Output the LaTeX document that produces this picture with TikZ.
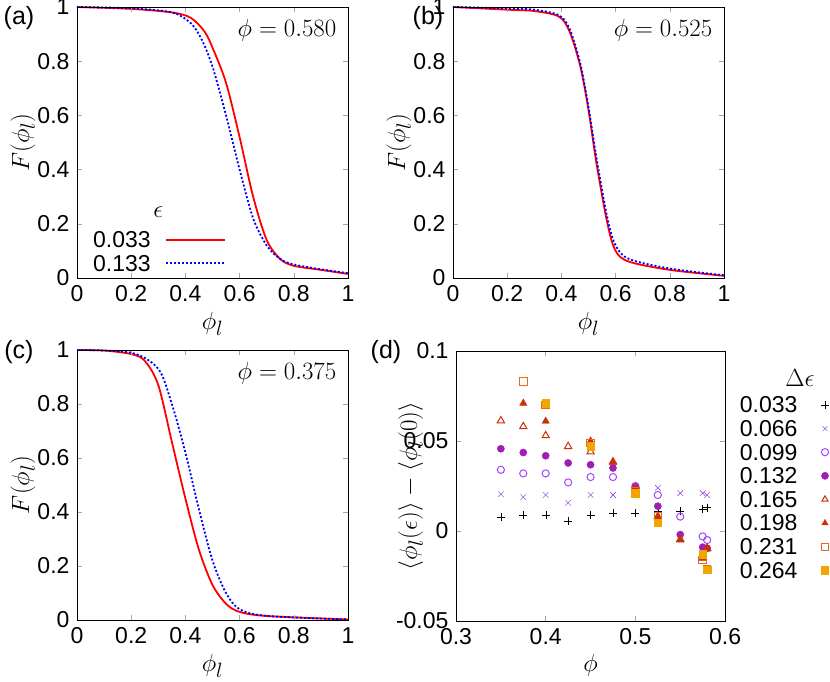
\documentclass[tikz,border=0pt]{standalone}
\usepackage{fontspec}
\setsansfont{Liberation Sans}
\usetikzlibrary{plotmarks}
\tikzset{
  tick/.style={font=\sffamily\fontsize{23}{25}\selectfont},
  lab/.style={font=\fontsize{29}{31}\selectfont},
  panel/.style={font=\sffamily\fontsize{25}{27}\selectfont},
  redline/.style={red,line width=1.8pt},
  blueline/.style={blue,line width=1.8pt,dash pattern=on 2pt off 2pt},
}
\definecolor{cviolet}{RGB}{130,40,220}
\definecolor{copen}{RGB}{160,70,255}
\definecolor{cpurple}{RGB}{160,30,180}
\definecolor{cred}{RGB}{200,50,10}
\definecolor{corange}{RGB}{225,110,30}
\definecolor{cyellow}{RGB}{240,165,0}
% frame with ticks for F panels
\newcommand{\fframe}{%
  \foreach \t in {0,0.2,0.4,0.6,0.8,1}{
    \draw[gray!70,line width=0.5pt] (\t,0) -- ++(0,5pt) (\t,1) -- ++(0,-5pt);
    \draw[gray!70,line width=0.5pt] (0,\t) -- ++(5pt,0) (1,\t) -- ++(-5pt,0);
    \node[tick,anchor=east] at ([xshift=-4pt]0,\t) {\t};
    \node[tick,anchor=north] at ([yshift=-4pt]\t,0) {\t};
  }
  \draw[line width=0.8pt] (0,0) rectangle (1,1);
  \node[lab] at (0.5,-0.17) {$\phi_l$};
  \node[lab,rotate=90] at (-0.2,0.5) {$F(\phi_l)$};
}
\begin{document}
\begin{tikzpicture}[x=1pt,y=1pt]
\useasboundingbox (0,0) rectangle (830,681);

%(a)
\begin{scope}[shift={(77,403)},x=271pt,y=271pt]
  \draw[redline] plot[smooth] coordinates {(0,1) (0.2,0.993) (0.35,0.98) (0.42,0.96) (0.47,0.91) (0.5,0.85) (0.55,0.72) (0.6,0.52) (0.65,0.3) (0.7,0.14) (0.75,0.07) (0.8,0.045) (0.9,0.03) (1,0.015)};
  \draw[blueline] plot[smooth] coordinates {(0,1) (0.2,0.995) (0.35,0.98) (0.42,0.94) (0.46,0.88) (0.5,0.78) (0.55,0.6) (0.6,0.4) (0.65,0.22) (0.7,0.12) (0.75,0.07) (0.8,0.05) (0.9,0.032) (1,0.018)};
  \fframe
  \node[lab] at (0.775,0.915) {$\phi=0.580$};
  %legend
  \node[lab] (eps) at (0.3,0.243) {$\epsilon$};
  \node[tick,anchor=east] (la) at (0.285,0.14) {0.033};
  \node[tick,anchor=east] (lb) at (0.285,0.055) {0.133};
  \draw[redline] (0.33,0.14) -- (0.546,0.14);
  \draw[blueline] (0.33,0.055) -- (0.546,0.055);
\end{scope}
\node[panel] (pa) at (19,663) {(a)};

%(b)
\begin{scope}[shift={(453,403)},x=271pt,y=271pt]
  \draw[redline] plot[smooth] coordinates {(0,1) (0.2,0.99) (0.3,0.985) (0.39,0.965) (0.43,0.91) (0.47,0.78) (0.5,0.62) (0.53,0.42) (0.57,0.2) (0.6,0.1) (0.65,0.06) (0.8,0.03) (1,0.008)};
  \draw[blueline] plot[smooth] coordinates {(0,1) (0.2,0.995) (0.3,0.99) (0.39,0.97) (0.43,0.92) (0.47,0.79) (0.5,0.63) (0.53,0.44) (0.57,0.22) (0.6,0.12) (0.65,0.07) (0.8,0.035) (1,0.01)};
  \fframe
  \node[lab] at (0.775,0.915) {$\phi=0.525$};
\end{scope}
\node[panel] (pb) at (428,663) {(b)};

%(c)
\begin{scope}[shift={(77,61)},x=271pt,y=270pt]
  \draw[redline] plot[smooth] coordinates {(0,1) (0.1,0.998) (0.2,0.985) (0.25,0.96) (0.3,0.87) (0.35,0.66) (0.4,0.45) (0.45,0.26) (0.5,0.13) (0.55,0.06) (0.6,0.03) (0.7,0.015) (1,0.002)};
  \draw[blueline] plot[smooth] coordinates {(0,1) (0.2,0.99) (0.3,0.93) (0.35,0.8) (0.4,0.62) (0.45,0.41) (0.5,0.22) (0.55,0.1) (0.6,0.04) (0.7,0.015) (1,0.002)};
  \fframe
  \node[lab] at (0.775,0.915) {$\phi=0.375$};
\end{scope}
\node[panel] (pc) at (19,329) {(c)};

%(d)
\begin{scope}[shift={(186.9,150)},x=897pt,y=1800pt]
  \foreach \t in {0.3,0.4,0.5,0.6}{
    \draw[gray!70,line width=0.5pt] (\t,-0.05) -- ++(0,5pt) (\t,0.1) -- ++(0,-5pt);
    \node[tick,anchor=north] at ([yshift=-4pt]\t,-0.05) {\t};
  }
  \foreach \t/\s in {-0.05/-0.05,0/0,0.05/0.05,0.1/0.1}{
    \draw[gray!70,line width=0.5pt] (0.3,\t) -- ++(5pt,0) (0.6,\t) -- ++(-5pt,0);
    \node[tick,anchor=east] at ([xshift=-4pt]0.3,\t) {\s};
  }
  \draw[line width=0.8pt] (0.3,-0.05) rectangle (0.6,0.1);
  \node[lab] at (0.45,-0.0744) {$\phi$};
  \node[lab,rotate=90] at (0.2495,0.025) {$\langle\phi_l(\epsilon)\rangle-\langle\phi_l(0)\rangle$};
  %data
  \draw[black] plot[only marks,mark=+,mark size=4pt] coordinates {(0.35,0.0077) (0.375,0.0087) (0.4,0.0088) (0.425,0.0055) (0.45,0.0088) (0.475,0.0098) (0.5,0.0098) (0.525,0.011) (0.55,0.011) (0.575,0.012) (0.58,0.013)};
  \draw[cviolet] plot[only marks,mark=x,mark size=4pt] coordinates {(0.35,0.0204) (0.375,0.0188) (0.4,0.02) (0.425,0.0157) (0.45,0.02) (0.475,0.02) (0.5,0.024) (0.525,0.024) (0.55,0.021) (0.575,0.021) (0.58,0.02)};
  \draw[copen] plot[only marks,mark=o,mark size=3.6pt,mark options={line width=1pt}] coordinates {(0.35,0.034) (0.375,0.032) (0.4,0.032) (0.425,0.027) (0.45,0.030) (0.475,0.030) (0.5,0.025) (0.525,0.020) (0.55,0.008) (0.575,-0.003) (0.58,-0.005)};
  \draw[cpurple] plot[only marks,mark=*,mark size=3.6pt] coordinates {(0.35,0.0457) (0.375,0.0436) (0.4,0.0418) (0.425,0.0378) (0.45,0.0368) (0.475,0.035) (0.5,0.0245) (0.525,0.0138) (0.55,-0.002) (0.575,-0.009) (0.58,-0.0096)};
  \draw[cred] plot[only marks,mark=triangle,mark size=4.2pt,mark options={line width=1pt}] coordinates {(0.35,0.0613) (0.375,0.058) (0.4,0.053) (0.425,0.047) (0.45,0.044) (0.475,0.0385) (0.5,0.0235) (0.525,0.008) (0.55,-0.0046) (0.575,-0.015) (0.58,-0.0096)};
  \draw[cred] plot[only marks,mark=triangle*,mark size=4.2pt] coordinates {(0.375,0.071) (0.4,0.061) (0.45,0.05) (0.475,0.038) (0.5,0.024) (0.525,0.008) (0.55,-0.005) (0.575,-0.015) (0.58,-0.01)};
  \draw[corange] plot[only marks,mark=square,mark size=3.8pt,mark options={line width=1pt}] coordinates {(0.375,0.083) (0.4,0.070) (0.45,0.049) (0.5,0.022) (0.525,0.008) (0.575,-0.016) (0.58,-0.0215)};
  \draw[cyellow] plot[only marks,mark=square*,mark size=3.8pt] coordinates {(0.4,0.071) (0.45,0.047) (0.5,0.021) (0.525,0.0046) (0.575,-0.013) (0.58,-0.0215)};
\end{scope}
\node[panel] (pd) at (386,329) {(d)};

%legend (d)
\node[lab] (deps) at (800,303) {$\Delta\epsilon$};
\foreach \v/\m/\c/\o [count=\i] in {0.033/+/black/{},0.066/x/cviolet/{},0.099/o/copen/{line width=1pt},0.132/*/cpurple/{},0.165/triangle/cred/{line width=1pt},0.198/triangle*/cred/{},0.231/square/corange/{line width=1pt},0.264/square*/cyellow/{}}{
  \node[tick,anchor=east] (v\i) at (801,{276-23.6*(\i-1)}) {\v};
  \draw[\c] plot[only marks,mark=\m,mark size=3.6pt,mark options/.expanded={\o}] coordinates {(825,{276-23.6*(\i-1)})};
}
\end{tikzpicture}
\end{document}
